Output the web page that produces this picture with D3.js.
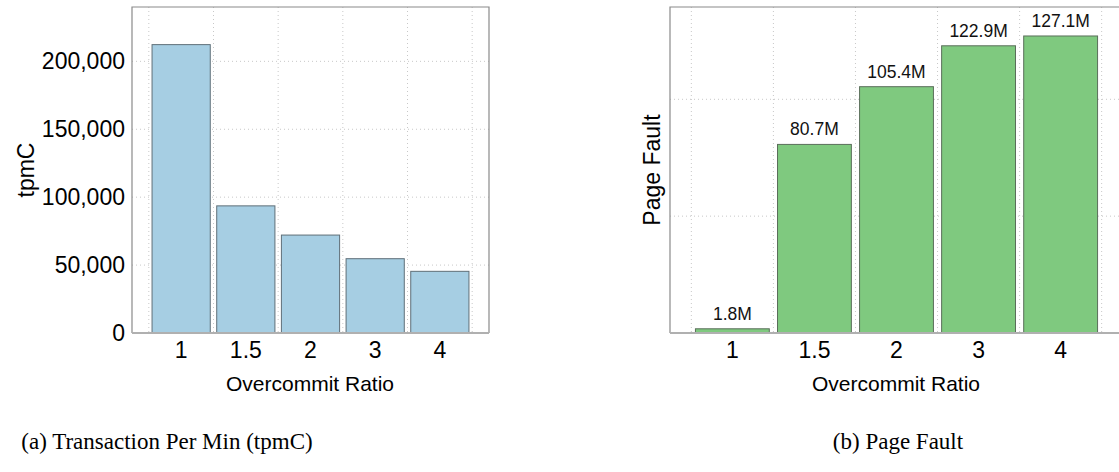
<!DOCTYPE html>
<html>
<head>
<meta charset="utf-8">
<script src="https://cdn.jsdelivr.net/npm/d3@7"></script>
<style>
  body { margin: 0; background: #fff; }
  svg { display: block; font-family: "Liberation Sans", Arial, sans-serif; }
  .caption { font-family: "Liberation Serif", "Times New Roman", serif; }
</style>
</head>
<body>
<svg id="chart" width="1119" height="472"></svg>
<script>
"use strict";

// ── Data ──────────────────────────────────────────────────────────────────────
const ratios = ["1", "1.5", "2", "3", "4"];
const tpmC = [212300, 93600, 72100, 54700, 45400];
const pageFaultM = [1.8, 80.7, 105.4, 122.9, 127.1];
const tpmTicks = [0, 50000, 100000, 150000, 200000];
const faultTicks = [50, 100];

const svg = d3.select("#chart");

// ── One bar panel ─────────────────────────────────────────────────────────────
function drawPanel(opt) {
  const { x0, x1, y0, y1 } = opt;
  const g = svg.append("g");

  const x = d3.scaleBand()
    .domain(ratios)
    .range([x0, x1])
    .paddingInner(0.1)
    .paddingOuter(0.31);

  const y = d3.scaleLinear()
    .domain([0, opt.yMax])
    .range([y1, y0]);

  const half = x.step() * x.paddingInner() / 2;

  // grid
  const vLines = ratios.map(r => x(r) - half).concat([x(ratios[ratios.length - 1]) + x.bandwidth() + half]);
  g.selectAll(".vgrid").data(vLines).enter().append("line")
    .attr("x1", d => d).attr("x2", d => d)
    .attr("y1", y0).attr("y2", y1)
    .attr("stroke", "#c8c8c8").attr("stroke-width", 1)
    .attr("stroke-dasharray", "1,3");

  g.selectAll(".hgrid").data(opt.gridTicks).enter().append("line")
    .attr("x1", x0).attr("x2", x1)
    .attr("y1", d => y(d)).attr("y2", d => y(d))
    .attr("stroke", "#c8c8c8").attr("stroke-width", 1)
    .attr("stroke-dasharray", "1,3");

  // bars
  g.selectAll(".bar").data(opt.values).enter().append("rect")
    .attr("x", (d, i) => x(ratios[i]))
    .attr("y", d => y(d))
    .attr("width", x.bandwidth())
    .attr("height", d => y(0) - y(d))
    .attr("fill", opt.fill)
    .attr("stroke", opt.stroke)
    .attr("stroke-width", 1);

  // value labels
  if (opt.labels) {
    g.selectAll(".val").data(opt.values).enter().append("text")
      .attr("x", (d, i) => x(ratios[i]) + x.bandwidth() / 2)
      .attr("y", d => y(d) - 9)
      .attr("text-anchor", "middle")
      .attr("font-size", "17.5px")
      .attr("fill", "#111")
      .text(d => d.toFixed(1) + "M");
  }

  // frame
  g.append("path")
    .attr("d", `M${x0},${y1}V${y0}H${x1}V${y1}`)
    .attr("fill", "none").attr("stroke", "#8a8a8a").attr("stroke-width", 1.2);
  g.append("line")
    .attr("x1", x0).attr("x2", x1).attr("y1", y1).attr("y2", y1)
    .attr("stroke", "#b0b0b0").attr("stroke-width", 2);

  // x axis
  const xAxis = g.append("g")
    .attr("transform", `translate(0,${y1})`)
    .call(d3.axisBottom(x).tickSize(0).tickPadding(9));
  xAxis.select(".domain").remove();
  xAxis.selectAll("text").attr("font-size", "23px").attr("fill", "#000")
    .attr("font-family", "Liberation Sans, Arial, sans-serif");

  // y axis
  if (opt.yTicks) {
    const yAxis = g.append("g")
      .attr("transform", `translate(${x0},0)`)
      .call(d3.axisLeft(y).tickValues(opt.yTicks).tickSize(0).tickPadding(7)
        .tickFormat(d3.format(",")));
    yAxis.select(".domain").remove();
    yAxis.selectAll("text").attr("font-size", "23px").attr("fill", "#000")
      .attr("font-family", "Liberation Sans, Arial, sans-serif");
  }

  // titles
  g.append("text")
    .attr("x", opt.xLabelX)
    .attr("y", 391)
    .attr("text-anchor", "middle")
    .attr("font-size", "21px")
    .text("Overcommit Ratio");

  g.append("text")
    .attr("transform", `translate(${opt.yLabelX},${(y0 + y1) / 2}) rotate(-90)`)
    .attr("text-anchor", "middle")
    .attr("font-size", "23px")
    .text(opt.yLabel);

  svg.append("text")
    .attr("class", "caption")
    .attr("x", opt.captionX)
    .attr("y", 449)
    .attr("text-anchor", "middle")
    .attr("font-size", "23px")
    .text(opt.caption);
}

drawPanel({
  x0: 132, x1: 489, y0: 7, y1: 333,
  yMax: 240000,
  values: tpmC,
  gridTicks: tpmTicks.slice(1),
  yTicks: tpmTicks,
  fill: "#a6cee3", stroke: "#5f6f78",
  yLabel: "tpmC", yLabelX: 34, xLabelX: 310,
  caption: "(a) Transaction Per Min (tpmC)", captionX: 167
});

drawPanel({
  x0: 670, x1: 1123, y0: 7, y1: 333,
  yMax: 139.5,
  values: pageFaultM,
  gridTicks: faultTicks,
  yTicks: null,
  labels: true,
  fill: "#7fc97f", stroke: "#5a6e5a",
  yLabel: "Page Fault", yLabelX: 660, xLabelX: 896,
  caption: "(b) Page Fault", captionX: 898
});
</script>
</body>
</html>
